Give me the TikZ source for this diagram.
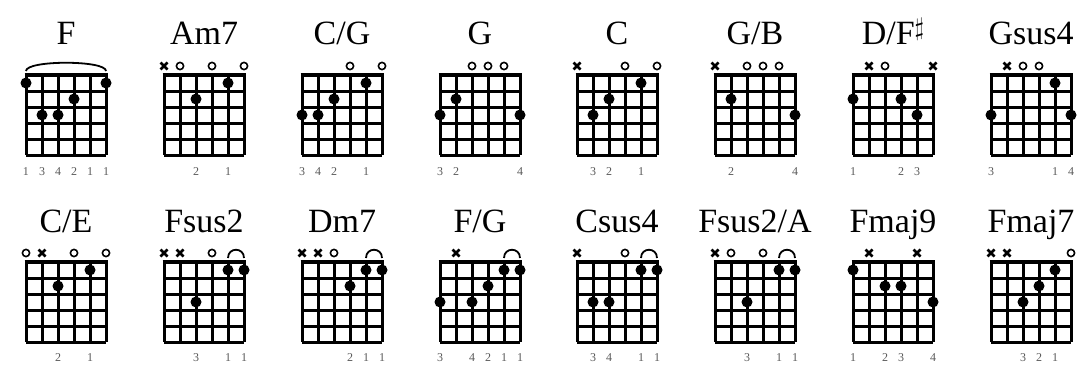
\documentclass[tikz,border=0pt]{standalone}
\usepackage{amsmath,amssymb}
\usepackage{fontspec}
\setmainfont{Liberation Serif}
\usepackage{tikz}
\usetikzlibrary{positioning}

\tikzset{
  fretline/.style={line width=3pt},
  nutline/.style={line width=4.5pt},
  chordname/.style={anchor=base,font=\fontsize{34}{34}\selectfont},
  fingnum/.style={font=\fontsize{12}{12}\selectfont,text=black!65},
  openmark/.style={line width=1.6pt},
  mutemark/.style={line width=2.6pt},
  barremark/.style={line width=1.8pt}
}
% one box: strings 0..5 (low E left), frets 1..5, top of the box at the scope origin
\newcommand\fretboard[2]{%
  \def\cname{#1}%
  \foreach \i in {0,...,5} \draw[fretline] (16*\i-40,0) -- (16*\i-40,80);
  \foreach \j in {1,...,5} \draw[fretline] (-40,16*\j) -- (40,16*\j);
  \draw[nutline] (-41.5,0) -- (41.5,0);
  \node[chordname] (#1) at (0,-30) {#2};}
\newcommand\barrearc[2]{%
  \draw[barremark] (16*#1-40,-4) .. controls (16*#1-40,-15) and (16*#2-40,-15) .. (16*#2-40,-4);}

\begin{document}
\begin{tikzpicture}[x=1pt,y=-1pt]
  \useasboundingbox (0,0) rectangle (1079,369);

  % ---- top row ----
  \begin{scope}[shift={(66,75)}]
    \fretboard{f}{F}
    \barrearc{0}{5}
    \foreach \s/\f in {0/1,5/1,3/2,1/3,2/3} \fill (16*\s-40,16*\f-8) circle (5.5);
    \foreach \s/\n in {0/1,1/3,2/4,3/2,4/1,5/1} \node[fingnum] (\cname-\s) at (16*\s-40,97) {\n};
  \end{scope}

  \begin{scope}[shift={(204,75)}]
    \fretboard{am7}{Am7}
    \foreach \s in {0} \draw[mutemark] (16*\s-43.5,-12.5) -- ++(7,7) (16*\s-36.5,-12.5) -- ++(-7,7);
    \foreach \s in {1,3,5} \draw[openmark] (16*\s-40,-9) circle (3.6);
    \foreach \s/\f in {2/2,4/1} \fill (16*\s-40,16*\f-8) circle (5.5);
    \foreach \s/\n in {2/2,4/1} \node[fingnum] (\cname-\s) at (16*\s-40,97) {\n};
  \end{scope}

  \begin{scope}[shift={(342,75)}]
    \fretboard{cg}{C/G}
    \foreach \s in {3,5} \draw[openmark] (16*\s-40,-9) circle (3.6);
    \foreach \s/\f in {0/3,1/3,2/2,4/1} \fill (16*\s-40,16*\f-8) circle (5.5);
    \foreach \s/\n in {0/3,1/4,2/2,4/1} \node[fingnum] (\cname-\s) at (16*\s-40,97) {\n};
  \end{scope}

  \begin{scope}[shift={(480,75)}]
    \fretboard{g}{G}
    \foreach \s in {2,3,4} \draw[openmark] (16*\s-40,-9) circle (3.6);
    \foreach \s/\f in {0/3,1/2,5/3} \fill (16*\s-40,16*\f-8) circle (5.5);
    \foreach \s/\n in {0/3,1/2,5/4} \node[fingnum] (\cname-\s) at (16*\s-40,97) {\n};
  \end{scope}

  \begin{scope}[shift={(617,75)}]
    \fretboard{c}{C}
    \foreach \s in {0} \draw[mutemark] (16*\s-43.5,-12.5) -- ++(7,7) (16*\s-36.5,-12.5) -- ++(-7,7);
    \foreach \s in {3,5} \draw[openmark] (16*\s-40,-9) circle (3.6);
    \foreach \s/\f in {1/3,2/2,4/1} \fill (16*\s-40,16*\f-8) circle (5.5);
    \foreach \s/\n in {1/3,2/2,4/1} \node[fingnum] (\cname-\s) at (16*\s-40,97) {\n};
  \end{scope}

  \begin{scope}[shift={(755,75)}]
    \fretboard{gb}{G/B}
    \foreach \s in {0} \draw[mutemark] (16*\s-43.5,-12.5) -- ++(7,7) (16*\s-36.5,-12.5) -- ++(-7,7);
    \foreach \s in {2,3,4} \draw[openmark] (16*\s-40,-9) circle (3.6);
    \foreach \s/\f in {1/2,5/3} \fill (16*\s-40,16*\f-8) circle (5.5);
    \foreach \s/\n in {1/2,5/4} \node[fingnum] (\cname-\s) at (16*\s-40,97) {\n};
  \end{scope}

  \begin{scope}[shift={(893,75)}]
    \fretboard{dfs}{D/F\raisebox{9pt}{\fontsize{26}{26}\selectfont$\sharp$}}
    \foreach \s in {1,5} \draw[mutemark] (16*\s-43.5,-12.5) -- ++(7,7) (16*\s-36.5,-12.5) -- ++(-7,7);
    \foreach \s in {2} \draw[openmark] (16*\s-40,-9) circle (3.6);
    \foreach \s/\f in {0/2,3/2,4/3} \fill (16*\s-40,16*\f-8) circle (5.5);
    \foreach \s/\n in {0/1,3/2,4/3} \node[fingnum] (\cname-\s) at (16*\s-40,97) {\n};
  \end{scope}

  \begin{scope}[shift={(1031,75)}]
    \fretboard{gsus4}{Gsus4}
    \foreach \s in {1} \draw[mutemark] (16*\s-43.5,-12.5) -- ++(7,7) (16*\s-36.5,-12.5) -- ++(-7,7);
    \foreach \s in {2,3} \draw[openmark] (16*\s-40,-9) circle (3.6);
    \foreach \s/\f in {0/3,4/1,5/3} \fill (16*\s-40,16*\f-8) circle (5.5);
    \foreach \s/\n in {0/3,4/1,5/4} \node[fingnum] (\cname-\s) at (16*\s-40,97) {\n};
  \end{scope}

  % ---- bottom row ----
  \begin{scope}[shift={(66,262)}]
    \fretboard{ce}{C/E}
    \foreach \s in {1} \draw[mutemark] (16*\s-43.5,-12.5) -- ++(7,7) (16*\s-36.5,-12.5) -- ++(-7,7);
    \foreach \s in {0,3,5} \draw[openmark] (16*\s-40,-9) circle (3.6);
    \foreach \s/\f in {2/2,4/1} \fill (16*\s-40,16*\f-8) circle (5.5);
    \foreach \s/\n in {2/2,4/1} \node[fingnum] (\cname-\s) at (16*\s-40,96) {\n};
  \end{scope}

  \begin{scope}[shift={(204,262)}]
    \fretboard{fsus2}{Fsus2}
    \barrearc{4}{5}
    \foreach \s in {0,1} \draw[mutemark] (16*\s-43.5,-12.5) -- ++(7,7) (16*\s-36.5,-12.5) -- ++(-7,7);
    \foreach \s in {3} \draw[openmark] (16*\s-40,-9) circle (3.6);
    \foreach \s/\f in {2/3,4/1,5/1} \fill (16*\s-40,16*\f-8) circle (5.5);
    \foreach \s/\n in {2/3,4/1,5/1} \node[fingnum] (\cname-\s) at (16*\s-40,96) {\n};
  \end{scope}

  \begin{scope}[shift={(342,262)}]
    \fretboard{dm7}{Dm7}
    \barrearc{4}{5}
    \foreach \s in {0,1} \draw[mutemark] (16*\s-43.5,-12.5) -- ++(7,7) (16*\s-36.5,-12.5) -- ++(-7,7);
    \foreach \s in {2} \draw[openmark] (16*\s-40,-9) circle (3.6);
    \foreach \s/\f in {3/2,4/1,5/1} \fill (16*\s-40,16*\f-8) circle (5.5);
    \foreach \s/\n in {3/2,4/1,5/1} \node[fingnum] (\cname-\s) at (16*\s-40,96) {\n};
  \end{scope}

  \begin{scope}[shift={(480,262)}]
    \fretboard{fg}{F/G}
    \barrearc{4}{5}
    \foreach \s in {1} \draw[mutemark] (16*\s-43.5,-12.5) -- ++(7,7) (16*\s-36.5,-12.5) -- ++(-7,7);
    \foreach \s/\f in {0/3,2/3,3/2,4/1,5/1} \fill (16*\s-40,16*\f-8) circle (5.5);
    \foreach \s/\n in {0/3,2/4,3/2,4/1,5/1} \node[fingnum] (\cname-\s) at (16*\s-40,96) {\n};
  \end{scope}

  \begin{scope}[shift={(617,262)}]
    \fretboard{csus4}{Csus4}
    \barrearc{4}{5}
    \foreach \s in {0} \draw[mutemark] (16*\s-43.5,-12.5) -- ++(7,7) (16*\s-36.5,-12.5) -- ++(-7,7);
    \foreach \s in {3} \draw[openmark] (16*\s-40,-9) circle (3.6);
    \foreach \s/\f in {1/3,2/3,4/1,5/1} \fill (16*\s-40,16*\f-8) circle (5.5);
    \foreach \s/\n in {1/3,2/4,4/1,5/1} \node[fingnum] (\cname-\s) at (16*\s-40,96) {\n};
  \end{scope}

  \begin{scope}[shift={(755,262)}]
    \fretboard{fsus2a}{Fsus2/A}
    \barrearc{4}{5}
    \foreach \s in {0} \draw[mutemark] (16*\s-43.5,-12.5) -- ++(7,7) (16*\s-36.5,-12.5) -- ++(-7,7);
    \foreach \s in {1,3} \draw[openmark] (16*\s-40,-9) circle (3.6);
    \foreach \s/\f in {2/3,4/1,5/1} \fill (16*\s-40,16*\f-8) circle (5.5);
    \foreach \s/\n in {2/3,4/1,5/1} \node[fingnum] (\cname-\s) at (16*\s-40,96) {\n};
  \end{scope}

  \begin{scope}[shift={(893,262)}]
    \fretboard{fmaj9}{Fmaj9}
    \foreach \s in {1,4} \draw[mutemark] (16*\s-43.5,-12.5) -- ++(7,7) (16*\s-36.5,-12.5) -- ++(-7,7);
    \foreach \s/\f in {0/1,2/2,3/2,5/3} \fill (16*\s-40,16*\f-8) circle (5.5);
    \foreach \s/\n in {0/1,2/2,3/3,5/4} \node[fingnum] (\cname-\s) at (16*\s-40,96) {\n};
  \end{scope}

  \begin{scope}[shift={(1031,262)}]
    \fretboard{fmaj7}{Fmaj7}
    \foreach \s in {0,1} \draw[mutemark] (16*\s-43.5,-12.5) -- ++(7,7) (16*\s-36.5,-12.5) -- ++(-7,7);
    \foreach \s in {5} \draw[openmark] (16*\s-40,-9) circle (3.6);
    \foreach \s/\f in {2/3,3/2,4/1} \fill (16*\s-40,16*\f-8) circle (5.5);
    \foreach \s/\n in {2/3,3/2,4/1} \node[fingnum] (\cname-\s) at (16*\s-40,96) {\n};
  \end{scope}
\end{tikzpicture}
\end{document}
